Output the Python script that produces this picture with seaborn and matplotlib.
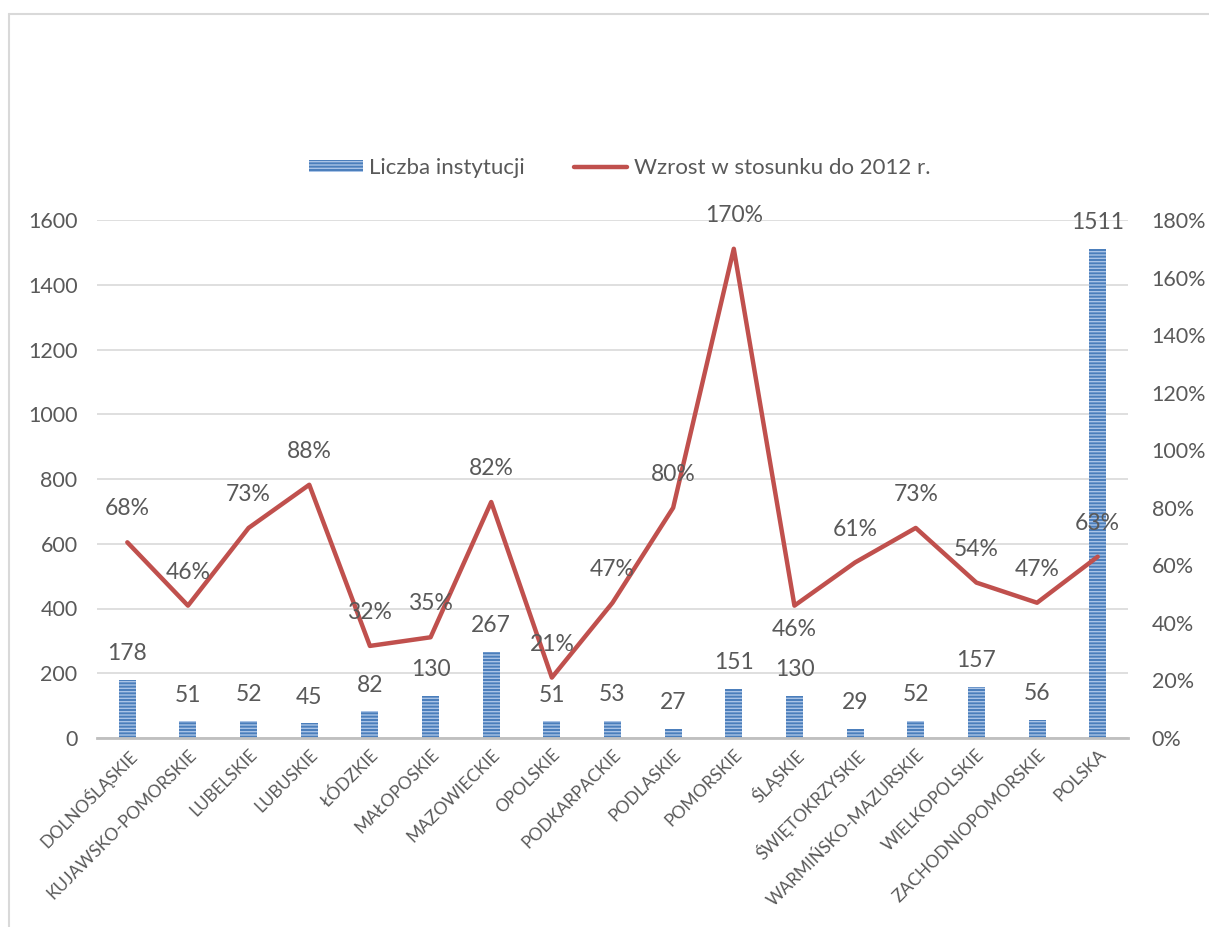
import matplotlib
matplotlib.use("Agg")
import matplotlib.pyplot as plt
import seaborn as sns
import numpy as np
import pandas as pd
from matplotlib.patches import Patch
from matplotlib.lines import Line2D

regions = ["DOLNOŚLĄSKIE", "KUJAWSKO-POMORSKIE", "LUBELSKIE", "LUBUSKIE", "ŁÓDZKIE",
           "MAŁOPOSKIE", "MAZOWIECKIE", "OPOLSKIE", "PODKARPACKIE", "PODLASKIE",
           "POMORSKIE", "ŚLĄSKIE", "ŚWIĘTOKRZYSKIE", "WARMIŃSKO-MAZURSKIE",
           "WIELKOPOLSKIE", "ZACHODNIOPOMORSKIE", "POLSKA"]
counts = [178, 51, 52, 45, 82, 130, 267, 51, 53, 27, 151, 130, 29, 52, 157, 56, 1511]
growth = [68, 46, 73, 88, 32, 35, 82, 21, 47, 80, 170, 46, 61, 73, 54, 47, 63]
below_labels = ["ŚLĄSKIE"]

sns.set_theme(style="white")
plt.rcParams['font.family'] = ['Lato', 'DejaVu Sans']
plt.rcParams['hatch.linewidth'] = 1.0

TXT = "#595959"
BAR = "#4A7EBB"
LINE = "#C0504D"
W, H = 1209, 927
fig = plt.figure(figsize=(W / 100, H / 100), dpi=100)
ax = fig.add_axes([97 / W, 1 - 738 / H, (1128 - 97) / W, (738 - 220) / H])

df = pd.DataFrame({"region": regions, "count": counts, "growth": growth})
sns.barplot(data=df, x="region", y="count", ax=ax, color=BAR, width=0.28,
            saturation=1)
for p in ax.patches:
    p.set_hatch("-----")
    p.set_edgecolor("#A9C3E6")
    p.set_linewidth(0)

ax.set_ylim(0, 1600)
ax.set_xlim(-0.5, len(regions) - 0.5)
ax.set_yticks(range(0, 1601, 200))
ax.yaxis.grid(True, color="#D9D9D9", linewidth=1.2)
ax.set_axisbelow(True)
for s in ["top", "right", "left"]:
    ax.spines[s].set_visible(False)
ax.spines["bottom"].set_color("#BFBFBF")
ax.spines["bottom"].set_linewidth(2)
ax.tick_params(axis="y", length=0, labelsize=15.5, labelcolor=TXT, pad=14)
ax.tick_params(axis="x", length=0, labelsize=12.5, labelcolor=TXT, pad=6)
ax.set_xlabel("")
ax.set_ylabel("")
for lbl in ax.get_xticklabels():
    lbl.set_rotation(45)
    lbl.set_ha("right")
    lbl.set_rotation_mode("anchor")

for i, v in enumerate(counts):
    ax.annotate(str(v), (i, v), xytext=(0, 19), textcoords="offset points",
                ha="center", va="center", fontsize=16.5, color=TXT,
                annotation_clip=False)

ax2 = ax.twinx()
sns.lineplot(x=np.arange(len(regions)), y=growth, ax=ax2, color=LINE,
             linewidth=3.2)
ax2.set_ylim(0, 180)
ax2.set_yticks(range(0, 181, 20))
ax2.set_yticklabels([f"{t}%" for t in range(0, 181, 20)])
for s in ["top", "right", "left", "bottom"]:
    ax2.spines[s].set_visible(False)
ax2.tick_params(axis="y", length=0, labelsize=15.5, labelcolor=TXT, pad=17)
ax2.set_ylabel("")
for i, (r, v) in enumerate(zip(regions, growth)):
    off = -17 if r in below_labels else 24
    ax2.annotate(f"{v}%", (i, v), xytext=(0, off), textcoords="offset points",
                 ha="center", va="center", fontsize=16.5, color=TXT,
                 annotation_clip=False)

handles = [Patch(facecolor=BAR, edgecolor="#A9C3E6", hatch="-----", linewidth=0),
           Line2D([0], [0], color=LINE, linewidth=3.2)]
fig.legend(handles, ["Liczba instytucji", "Wzrost w stosunku do 2012 r."],
           loc="center", bbox_to_anchor=(620 / W, 1 - 168 / H), ncol=2,
           frameon=False, fontsize=16, labelcolor=TXT, handlelength=2.4,
           handleheight=0.45, columnspacing=2.2, handletextpad=0.3)

fig.add_artist(Line2D([9 / W, 9 / W], [0, 1 - 14 / H], color="#D9D9D9",
                      linewidth=1.5, transform=fig.transFigure))
fig.add_artist(Line2D([9 / W, 1], [1 - 14 / H, 1 - 14 / H], color="#D9D9D9",
                      linewidth=1.5, transform=fig.transFigure))

fig.savefig("out.png", dpi=100)
